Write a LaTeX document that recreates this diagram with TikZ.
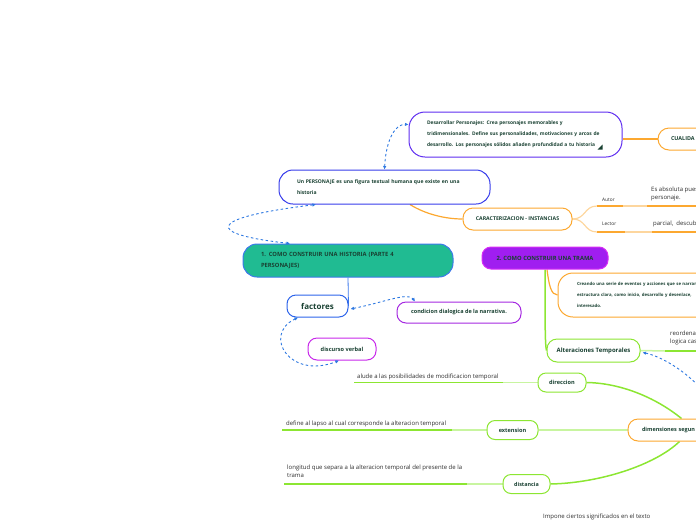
\documentclass[tikz,border=0pt]{standalone}
\usepackage{fontspec}
\setmainfont{Open Sans}
\usetikzlibrary{arrows.meta,calc}
\pgfdeclarelayer{background}
\pgfsetlayers{background,main}
\definecolor{txt}{RGB}{25,65,50}
\definecolor{plain}{RGB}{45,45,45}
\definecolor{orng}{RGB}{252,168,48}
\definecolor{lorng}{RGB}{253,214,158}
\definecolor{grn}{RGB}{140,230,50}
\definecolor{lgrn}{RGB}{200,245,160}
\definecolor{dblue}{RGB}{45,120,225}
\definecolor{violetb}{RGB}{95,45,240}
\definecolor{persb}{RGB}{55,60,235}
\definecolor{tealf}{RGB}{32,187,146}
\definecolor{n1b}{RGB}{60,120,235}
\definecolor{factb}{RGB}{45,100,235}
\definecolor{purpb}{RGB}{165,40,225}
\definecolor{magb}{RGB}{200,40,235}
\definecolor{n2f}{RGB}{160,30,240}
\definecolor{n2b}{RGB}{215,45,245}
\tikzset{
  mbox/.style={draw, rounded corners=#1, line width=1pt, inner sep=0pt, text=txt, fill=white},
  mbox/.default=9pt,
  fs/.style={font=\bfseries\fontsize{#1}{11}\selectfont},
  plaintxt/.style={inner sep=0pt, text=plain, font=\fontsize{6}{8.5}\selectfont, align=left},
  oline/.style={draw=orng, line width=1.2pt},
  loline/.style={draw=lorng, line width=1.2pt},
  gline/.style={draw=grn, line width=1.5pt},
  lgline/.style={draw=lgrn, line width=1.5pt},
  darrow/.style={draw=dblue, line width=0.9pt, dash pattern=on 2.5pt off 2.5pt},
  tip/.tip={Latex[length=3.5pt,width=3.5pt]},
}
\begin{document}
\begin{tikzpicture}[x=1pt,y=-1pt]
\useasboundingbox (0,0) rectangle (696,520);
\clip (0,0) rectangle (696,520);

% ---- nodes ----
\node[mbox=16pt, draw=violetb, minimum width=213pt, minimum height=45pt, text width=177pt, align=left, fs=4.9] (desa) at (515.5,134.5)
  {Desarrollar Personajes: Crea personajes memorables y\\tridimensionales. Define sus personalidades, motivaciones y arcos de\\desarrollo. Los personajes sólidos añaden profundidad a tu historia};
\fill[txt] ($(desa.south east)+(-25,-8)$) -- ++(5,0) -- ++(0,-5) -- cycle;

\node[mbox=11pt, draw=orng, minimum width=82pt, minimum height=22pt, text width=56pt, align=left, fs=5.4] (cual) at (699,139) {CUALIDA};

\node[mbox=14pt, draw=persb, minimum width=211pt, minimum height=34pt, text width=175pt, align=left, fs=5.05] (pers) at (384.5,187)
  {Un PERSONAJE es una figura textual humana que existe en una\\historia};

\node[mbox=10pt, draw=orng, minimum width=109pt, minimum height=22pt, fs=5.2] (carac) at (517.5,219) {CARACTERIZACION - INSTANCIAS};

\node[mbox=14pt, draw=n1b, fill=tealf, minimum width=210pt, minimum height=33pt, text width=174pt, align=left, fs=5.8] (n1) at (348,260.5)
  {1. COMO CONSTRUIR UNA HISTORIA (PARTE 4\\PERSONAJES)};

\node[mbox=9pt, draw=factb, minimum width=61pt, minimum height=22pt, fs=8] (fact) at (317.5,306) {factores};

\node[mbox=9pt, draw=purpb, minimum width=124pt, minimum height=21pt, fs=5.5] (cond) at (459,312.5) {condicion dialogica de la narrativa.};

\node[mbox=9pt, draw=magb, minimum width=68pt, minimum height=22pt, fs=5.6] (disc) at (342,349) {discurso verbal};

\node[mbox=9pt, draw=n2b, fill=n2f, minimum width=126pt, minimum height=22pt, fs=5.8] (n2) at (545,258) {2. COMO CONSTRUIR UNA TRAMA};

\node[mbox=15pt, draw=orng, minimum width=190pt, minimum height=44pt, text width=152pt, align=left, fs=4.3] (crea) at (653,295)
  {Creando una serie de eventos y acciones que se narran\\estructura clara, como inicio, desarrollo y desenlace,\\interesado.};

\node[mbox=10pt, draw=grn, minimum width=93pt, minimum height=23pt, fs=6] (alt) at (593.5,350.5) {Alteraciones Temporales};

\node[mbox=10pt, draw=orng, minimum width=120pt, minimum height=22pt, text width=92pt, align=left, fs=5.5] (dim) at (688,430) {dimensiones segun};

\node[mbox=8pt, draw=grn, minimum width=48pt, minimum height=19pt, fs=5.6] (dir) at (562,382.5) {direccion};
\node[mbox=8pt, draw=grn, minimum width=51pt, minimum height=19pt, fs=5.6] (ext) at (512.5,430) {extension};
\node[mbox=8pt, draw=grn, minimum width=47pt, minimum height=19pt, fs=5.4] (dist) at (526.5,484) {distancia};

% ---- plain texts ----
\node[plaintxt, anchor=base west, font=\fontsize{4.8}{8.5}\selectfont] (tautor) at (602,201) {Autor};
\node[plaintxt, anchor=base west, font=\fontsize{4.8}{8.5}\selectfont] (tlector) at (602,225.5) {Lector};
\node[plaintxt, anchor=north west] (tabs) at (651,186.5) {Es absoluta pues\\personaje.};
\node[plaintxt, anchor=base west] (tparc) at (653,225.5) {parcial,\ \ descub};
\node[plaintxt, anchor=north west] (treo) at (670,330.5) {reordena\\logica cas};
\node[plaintxt, anchor=base west] (talude) at (357,378) {alude a las posibilidades de modificacion temporal};
\node[plaintxt, anchor=base west] (tdef) at (286,425) {define al lapso al cual corresponde la alteracion temporal};
\node[plaintxt, anchor=north west] (tlong) at (287,464.5) {longitud que separa a la alteracion temporal del presente de la\\trama};
\node[plaintxt, anchor=base west] (timp) at (543,518.3) {Impone ciertos significados en el texto};

% ---- coordinates ----
\coordinate (au1) at (597,206);
\coordinate (au2) at (623,206);
\coordinate (au3) at (647,206);
\coordinate (au4) at (700,206);
\coordinate (le1) at (597,232);
\coordinate (le2) at (625,232);
\coordinate (le3) at (652,232);
\coordinate (le4) at (700,232);
\coordinate (al2) at (665,351);
\coordinate (al3) at (700,351);
\coordinate (aloff) at (702,390);
\coordinate (dr2) at (503,382.5);
\coordinate (dr3) at (354,382.5);
\coordinate (ex2) at (452,430);
\coordinate (ex3) at (282,430);
\coordinate (ds2) at (467,484);
\coordinate (ds3) at (284,484);

\begin{pgfonlayer}{background}
% ---- connectors (orange) ----
\path[oline] (desa.east |- cual.west) -- (cual.west);
\path[oline] ($(pers.south)+(25.5,0)$) .. controls (425,214) and (445,219) .. (carac.west);
\path[loline] (carac.east) .. controls (586,219) and (584,206) .. (au1);
\path[loline] (carac.east) .. controls (586,219) and (584,232) .. (le1);
\path[oline] (au1) -- (au2);
\path[loline] (au2) -- (au3);
\path[oline] (au3) -- (au4);
\path[oline] (le1) -- (le2);
\path[loline] (le2) -- (le3);
\path[oline] (le3) -- (le4);
\path[oline] ($(n2.south)+(2,0)$) .. controls (549,285) and (551,295) .. (crea.west);

% ---- blue ----
\draw[n1b, line width=0.8pt] (n1.south) -- (fact.east);

% ---- green ----
\path[gline] (n2.south) .. controls (545,320) and (545,345) .. (alt.west);
\path[lgline] (alt.east) -- (al2);
\path[gline] (al2) -- (al3);
\path[gline] ($(dim.north west)+(54,0)$) .. controls (655,397) and (620,383) .. (dir.east);
\path[lgline] (dim.west) -- (ext.east);
\path[gline] ($(dim.south west)+(52,0)$) .. controls (655,465) and (600,483) .. (dist.east);
\path[lgline] (dir.west) -- (dr2);
\path[gline] (dr2) -- (dr3);
\path[lgline] (ext.west) -- (ex2);
\path[gline] (ex2) -- (ex3);
\path[lgline] (dist.west) -- (ds2);
\path[gline] (ds2) -- (ds3);
\end{pgfonlayer}

% ---- dashed arrows ----
\path[darrow, {tip}-{tip}] (pers.north) .. controls (386,140) and (395,124) .. ($(desa.west)+(0,-10)$);
\path[darrow, {tip}-{tip}] ($(pers.south)+(-68.5,0)$) .. controls (205,218) and (205,234) .. ($(n1.north)+(-58,0)$);
\path[darrow, {tip}-{tip}] ($(fact.east)+(2,3)$) .. controls (385,302) and (408,292) .. ($(cond.north)+(-44,0)$);
\path[darrow, {tip}-{tip}] ($(fact.south)+(-19.5,0)$) .. controls (262,335) and (290,380) .. ($(disc.south)+(-3,0)$);
\path[darrow, {tip}-] ($(alt.east)+(2,2)$) .. controls (660,356) and (685,370) .. (aloff);
\end{tikzpicture}
\end{document}
